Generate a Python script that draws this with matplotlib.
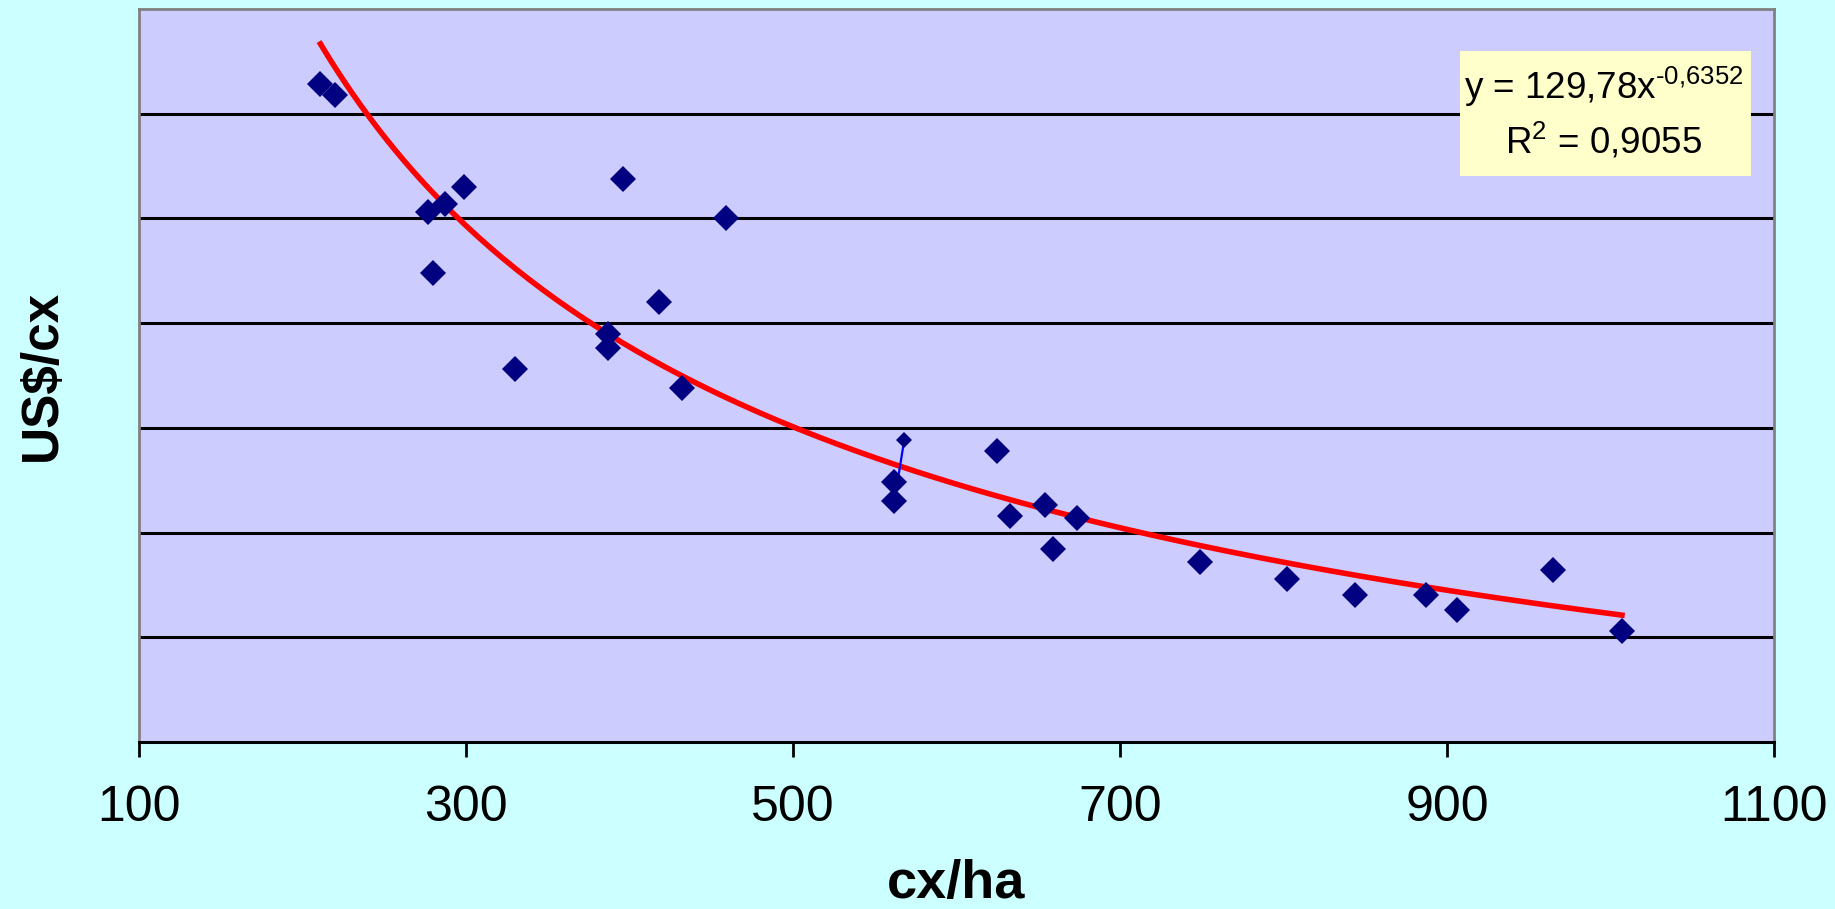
import numpy as np
import matplotlib
matplotlib.use("Agg")
import matplotlib.pyplot as plt
from matplotlib.patches import Rectangle

plt.rcParams['font.family'] = ['Liberation Sans', 'DejaVu Sans']
plt.rcParams['mathtext.fontset'] = 'custom'
plt.rcParams['mathtext.rm'] = 'Liberation Sans'

# dados
cx_ha = [211, 220, 277, 287, 299, 280, 330, 396, 459, 418, 387, 387, 432,
         568, 562, 562, 625, 633, 654, 659, 674, 749, 802, 844, 887, 906, 965, 1007]
us_cx = [4.14, 4.09, 3.53, 3.57, 3.65, 3.24, 2.78, 3.69, 3.50, 3.10, 2.95, 2.88, 2.69,
         2.44, 2.24, 2.15, 2.39, 2.08, 2.13, 1.92, 2.07, 1.86, 1.78, 1.70, 1.70, 1.63, 1.82, 1.53]
small_pt = 13   # ponto pequeno com o segmento azul
seg_idx = [13, 15]

# linha de tendencia (potencia) mostrada no grafico
coef_a = 129.78
coef_b = -0.6352
r2 = 0.9055

xticks = [100, 300, 500, 700, 900, 1100]

fig = plt.figure(figsize=(18.35, 9.09), dpi=100, facecolor='#CCFFFF')
ax = fig.add_axes([139/1835, 1 - 742/909, (1774 - 139)/1835, (742 - 9)/909])
ax.set_facecolor('#CCCCFF')

for g in np.arange(1.5, 4.5, 0.5):
    ax.axhline(g, color='black', lw=2.2, zorder=1)

xt = np.linspace(min(cx_ha), max(cx_ha), 200)
ax.plot(xt, coef_a * xt ** coef_b, color='#FF0000', lw=4, zorder=2)

ax.plot([cx_ha[i] for i in seg_idx], [us_cx[i] for i in seg_idx], color='#0000FF', lw=1.6, zorder=3)
big = [i for i in range(len(cx_ha)) if i != small_pt]
ax.plot([cx_ha[i] for i in big], [us_cx[i] for i in big], 'D', color='#000080',
        markersize=13, markeredgewidth=0, zorder=4)
ax.plot([cx_ha[small_pt]], [us_cx[small_pt]], 'D', color='#000080',
        markersize=8, markeredgewidth=0, zorder=4)

ax.set_xlim(100, 1100)
ax.set_ylim(1.0, 4.5)
ax.set_xticks(xticks)
ax.set_xticklabels([str(t) for t in xticks], fontsize=36)
ax.set_yticks([])
ax.tick_params(axis='x', length=11, width=2, pad=20, direction='out')

for s in ['left', 'right', 'top']:
    ax.spines[s].set_color('#808080')
    ax.spines[s].set_linewidth(2)
ax.spines['bottom'].set_color('black')
ax.spines['bottom'].set_linewidth(2.2)

ax.set_xlabel('cx/ha', fontsize=39, fontweight='bold', labelpad=20)
ax.set_ylabel('US$/cx', fontsize=37, fontweight='bold', labelpad=52)

# caixa da equacao
fig.patches.append(Rectangle((1460/1835, 1 - 176/909), 291/1835, 125/909,
                             transform=fig.transFigure, facecolor='#FFFFCC',
                             edgecolor='none', zorder=5))
fig.text(1604/1835, 1 - 87/909, 'y = 129,78x$^{\\text{-0,6352}}$',
         ha='center', va='center', fontsize=26.5, zorder=6)
fig.text(1604/1835, 1 - 141/909, 'R$^{\\text{2}}$ = 0,9055',
         ha='center', va='center', fontsize=26.5, zorder=6)

fig.savefig('out.png', dpi=100, facecolor=fig.get_facecolor())
